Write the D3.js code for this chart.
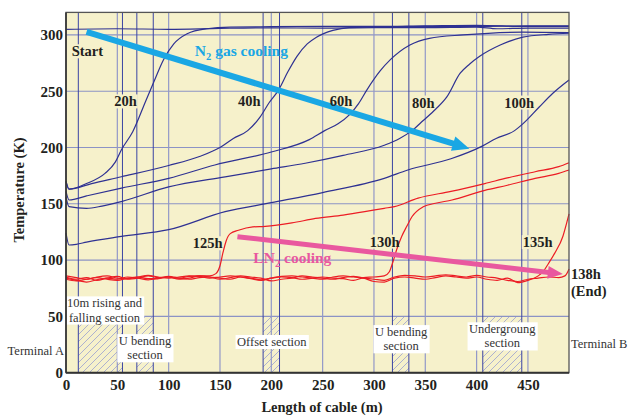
<!DOCTYPE html>
<html><head><meta charset="utf-8">
<script src="https://cdn.jsdelivr.net/npm/d3@7"></script>
<style>body{margin:0;background:#fff}svg{display:block}</style>
</head><body>
<svg id="c" width="631" height="420"></svg>
<script>
// ---------- data (length m, temperature K) ----------
const xTicks = [0,50,100,150,200,250,300,350,400,450];
const yTicks = [0,50,100,150,200,250,300];
const sectionLines = [12,55,69,85,192,208,318,334,406,444];
const sections = [[12,55],[69,85],[192,208],[318,334],[406,444]];

const startCurve = [[0,305],[50,305.5],[100,305],[150,305.8],[200,306.3],[250,306],[300,306.5],[350,306.5],[400,307],[420,305.5],[450,306],[490,306]];
const h20 = [[0,170],[3,163],[20,168],[38,177],[48,187],[54,198],[65,214],[78,242],[85,257],[95,278],[105,292],[118,301],[137,305.5],[160,307],[200,307.3],[250,307.5],[300,307.5],[350,308],[400,308.5],[450,307.5],[490,307.5]];
const h40 = [[0,170],[3,163],[25,168],[54,174],[100,184],[130,192],[150,200],[163,208],[177,215],[189,227],[198,240],[207,251],[216,267],[225,281],[235,292],[244,298],[260,304],[276,306.5],[300,307],[350,307.5],[400,307.5],[450,308],[490,308]];
const h60 = [[0,161],[3,153.4],[20,157],[54,164],[100,172.6],[145,184.5],[200,196],[237,207],[252,215],[265,221],[276,229],[285,239],[293,251],[306,268],[316,278],[335,291],[354,297],[387,300],[445,302.5],[490,302]];
const h80 = [[0,156],[3,147.5],[20,146],[35,148],[54,152],[100,165],[155,174],[200,181],[233,186],[270,193],[310,202],[325,208],[337,215],[348,224],[360,234],[371,245],[384,266],[393,274],[403,281],[423,291],[445,298],[470,300.5],[490,301.5]];
const h100 = [[0,124],[3,113.4],[10,114],[20,116],[54,121],[100,127],[155,143],[200,151],[250,160],[310,172.6],[333,180],[375,190],[405,201],[419,208],[437,215],[445,221],[461,236],[474,248],[490,260]];

const h125 = [[0,85],[10,83],[20,84.5],[30,82],[40,84],[50,85.5],[60,83],[70,84],[80,86],[90,84.5],[100,85],[110,84],[120,85.5],[130,86],[140,86],[146,88],[150,95],[153,107],[156,117],[160,123.5],[168,126.5],[182,129.5],[194,130],[220,133],[243,137],[270,140],[291,143],[310,146],[320,147.5],[343,155],[375,161],[408,168],[430,173],[457,178.5],[480,183],[490,186.5]];
const h130 = [[0,83],[10,81.5],[20,83],[30,84.5],[40,83],[50,82],[60,84],[70,85],[80,83.5],[90,84],[100,85.5],[110,84],[120,83],[130,84.5],[140,85],[150,84],[160,83],[170,85],[180,84],[190,82.5],[200,84],[210,85],[220,84.5],[230,83],[240,84],[250,85],[260,84],[270,83.5],[280,82],[290,84.5],[300,85],[310,86],[315,89.7],[318,97],[322,109],[327,121],[332,130],[337,138.5],[348,147.4],[360,150.5],[376,153.4],[408,162],[430,166.5],[457,172.6],[480,177],[490,180]];
const h135 = [[0,84],[10,82],[20,80.5],[30,82.5],[40,84],[50,83],[60,85],[70,84],[80,82.5],[90,83.5],[100,85],[110,83],[120,84],[130,86],[140,85],[150,83],[160,84.5],[170,86],[180,85],[190,84],[200,81.5],[210,83],[220,84],[230,86],[240,85],[250,84],[260,83],[270,84.5],[280,85.5],[290,84],[300,81],[310,80.5],[320,84],[330,85],[340,84],[350,83],[360,84.5],[370,86],[380,85],[390,84],[400,85],[410,83],[420,82],[430,84],[440,80],[450,82],[460,86],[465,90],[470,97],[476,106],[484,121],[488,134],[490,141]];
const h138 = [[0,86],[10,84.5],[20,83],[30,85],[40,86],[50,84],[60,83.5],[70,85],[80,86.5],[90,85],[100,84],[110,85],[120,86],[130,85.5],[140,84],[150,85],[160,86],[170,85],[180,83.5],[190,82],[200,84],[210,85.5],[220,86],[230,85],[240,84],[250,83],[260,85],[270,86],[280,85],[290,84],[300,83],[310,82],[320,85],[330,86.5],[340,86],[350,85],[360,86],[370,87],[380,86],[390,85],[400,86.5],[410,85],[420,84],[430,82],[440,81],[450,83],[460,84],[470,85],[480,84.5],[486,86],[490,92]];

const blueSeries = [startCurve,h20,h40,h60,h80,h100];
const redSeries = [h125,h130,h135,h138];

const gasArrow = [[20,302.8],[393,199]];
const lnArrow = [[167,120.8],[484,87.6]];

const curveLabels = [
  {t:"Start",x:5.5,y:281},{t:"20h",x:47,y:236.5},{t:"40h",x:167.5,y:236.5},
  {t:"60h",x:257,y:236.5},{t:"80h",x:337,y:235.5},{t:"100h",x:427,y:235.5},
  {t:"125h",x:123.5,y:110.5},{t:"130h",x:296,y:112},{t:"135h",x:445,y:111.5}
];
const sectionLabels = [
  {lines:["10m rising and","falling section"],x:37.5,y:58},
  {lines:["U bending","section"],x:77,y:24.5},
  {lines:["Offset section"],x:200.5,y:23.7},
  {lines:["U bending","section"],x:326.5,y:32.5},
  {lines:["Undergroung","section"],x:425,y:35}
];

// ---------- drawing ----------
const svg = d3.select("#c");
const x = d3.scaleLinear().domain([0,490]).range([66,569]);
const y = d3.scaleLinear().domain([0,320]).range([372.7,12.4]);
const SERIF = "'Liberation Serif','Times New Roman',serif";
const BG = "#f6f1cb", NAVY = "#2e3192", RED = "#ec1c24";

const defs = svg.append("defs");
const pat = defs.append("pattern").attr("id","hatch").attr("patternUnits","userSpaceOnUse")
  .attr("width",7).attr("height",7);
pat.append("rect").attr("width",7).attr("height",7).attr("fill",BG);
pat.append("path").attr("d","M-1,1 l2,-2 M0,7 l7,-7 M6,8 l2,-2")
  .attr("stroke","#7c86d2").attr("stroke-width",0.6);

svg.append("rect").attr("x",x(0)).attr("y",y(320)).attr("width",x(490)-x(0)).attr("height",y(0)-y(320)).attr("fill",BG);

svg.append("g").selectAll("rect").data(sections).join("rect")
  .attr("x",d=>x(d[0])).attr("y",y(50)).attr("width",d=>x(d[1])-x(d[0])).attr("height",y(0)-y(50))
  .attr("fill","url(#hatch)");

svg.append("g").selectAll("line").data(yTicks.filter(d=>d>0)).join("line")
  .attr("x1",x(0)).attr("x2",x(490)).attr("y1",d=>y(d)).attr("y2",d=>y(d))
  .attr("stroke","#8c93c5").attr("stroke-width",1.1);
svg.append("g").selectAll("line").data(xTicks.filter(d=>d>0)).join("line")
  .attr("x1",d=>x(d)).attr("x2",d=>x(d)).attr("y1",y(0)).attr("y2",y(320))
  .attr("stroke","#9298c8").attr("stroke-width",1.2);
svg.append("g").selectAll("line").data(sectionLines).join("line")
  .attr("x1",d=>x(d)).attr("x2",d=>x(d)).attr("y1",y(0)).attr("y2",y(320))
  .attr("stroke","#3a43a3").attr("stroke-width",1);

const lblG = svg.append("g");
const line = d3.line().x(d=>x(d[0])).y(d=>y(d[1])).curve(d3.curveMonotoneX);

const tmpT = svg.append("g").attr("font-family",SERIF).attr("font-weight","bold").attr("font-size",14.5);
curveLabels.forEach(d=>{
  const t = tmpT.append("text").attr("x",x(d.x)).attr("y",y(d.y)).text(d.t);
  const b = t.node().getBBox();
  lblG.append("rect").attr("x",b.x-1).attr("y",b.y+1).attr("width",b.width+2).attr("height",b.height-2).attr("fill",BG);
  t.remove();
});

svg.append("g").selectAll("path").data(blueSeries).join("path")
  .attr("d",line).attr("fill","none").attr("stroke",NAVY).attr("stroke-width",1.2);
svg.append("g").selectAll("path").data(redSeries).join("path")
  .attr("d",line).attr("fill","none").attr("stroke",RED).attr("stroke-width",1.2);

function arrow(pts,color,w,hl,hw){
  const p0=[x(pts[0][0]),y(pts[0][1])], p1=[x(pts[1][0]),y(pts[1][1])];
  const dx=p1[0]-p0[0], dy=p1[1]-p0[1], L=Math.hypot(dx,dy), ux=dx/L, uy=dy/L;
  const bx=p1[0]-ux*hl, by=p1[1]-uy*hl;
  svg.append("line").attr("x1",p0[0]).attr("y1",p0[1]).attr("x2",bx+ux*1).attr("y2",by+uy*1)
    .attr("stroke",color).attr("stroke-width",w);
  svg.append("polygon").attr("points",[[p1[0],p1[1]],[bx-uy*hw,by+ux*hw],[bx+uy*hw,by-ux*hw]].map(p=>p.join(",")).join(" "))
    .attr("fill",color);
}
arrow(gasArrow,"#1aa7e4",6,17,7.5);
arrow(lnArrow,"#e9589f",5,15,6.5);

const tg = svg.append("g").attr("font-family",SERIF).attr("font-weight","bold").attr("font-size",14.5).attr("fill","#231f20");
curveLabels.forEach(d=>tg.append("text").attr("x",x(d.x)).attr("y",y(d.y)).text(d.t));
tg.append("text").attr("x",x(490)+2).attr("y",y(83.5)).text("138h");
tg.append("text").attr("x",x(490)+2).attr("y",y(68.5)).text("(End)");

const n2 = svg.append("text").attr("x",x(125.5)).attr("y",y(281)).attr("font-family",SERIF).attr("font-weight","bold")
  .attr("font-size",15.5).attr("fill","#1aa7e4");
n2.append("tspan").text("N");
n2.append("tspan").attr("dy",4).attr("font-size",10.5).text("2");
n2.append("tspan").attr("dy",-4).text(" gas cooling");

const ln = svg.append("text").attr("x",x(182.5)).attr("y",y(97)).attr("font-family",SERIF).attr("font-weight","bold")
  .attr("font-size",15.5).attr("fill","#e9589f");
ln.append("tspan").text("LN");
ln.append("tspan").attr("dy",4).attr("font-size",10.5).text("2");
ln.append("tspan").attr("dy",-4).text(" cooling");

const sg = svg.append("g").attr("font-family",SERIF).attr("font-size",12.5).attr("fill","#333");
sectionLabels.forEach(d=>{
  const g = sg.append("g");
  const rect = g.append("rect").attr("fill","#fff");
  const boxes = d.lines.map((s,i)=>{
    const t = g.append("text").attr("text-anchor","middle").attr("x",x(d.x)).attr("y",y(d.y)+i*14.2).text(s);
    return t.node().getBBox();
  });
  const x0=d3.min(boxes,b=>b.x), x1=d3.max(boxes,b=>b.x+b.width), y0=d3.min(boxes,b=>b.y), y1=d3.max(boxes,b=>b.y+b.height);
  rect.attr("x",x0-1.5).attr("y",y0).attr("width",x1-x0+3).attr("height",y1-y0);
});
sg.append("text").attr("x",x(0)-2).attr("y",y(16)).attr("text-anchor","end").text("Terminal A");
sg.append("text").attr("x",x(490)+2).attr("y",y(21.5)).text("Terminal B");

svg.append("rect").attr("x",x(0)).attr("y",y(320)).attr("width",x(490)-x(0)).attr("height",y(0)-y(320))
  .attr("fill","none").attr("stroke","#555").attr("stroke-width",1.3);
svg.append("line").attr("x1",x(0)).attr("x2",x(490)).attr("y1",y(0)).attr("y2",y(0)).attr("stroke","#333").attr("stroke-width",2);
svg.append("line").attr("x1",x(0)).attr("x2",x(0)).attr("y1",y(0)).attr("y2",y(320)).attr("stroke","#333").attr("stroke-width",1.6);

const xa = svg.append("g").attr("transform",`translate(0,${y(0)})`).call(d3.axisBottom(x).tickValues(xTicks).tickSize(0).tickPadding(7));
const ya = svg.append("g").attr("transform",`translate(${x(0)},0)`).call(d3.axisLeft(y).tickValues(yTicks).tickSize(0).tickPadding(3));
[xa,ya].forEach(a=>{a.select(".domain").remove();
  a.selectAll("text").attr("font-family",SERIF).attr("font-weight","bold").attr("font-size",15).attr("fill","#231f20");});

svg.append("text").attr("x",322).attr("y",411.5).attr("text-anchor","middle").attr("font-family",SERIF)
  .attr("font-weight","bold").attr("font-size",14.5).attr("fill","#231f20").text("Length of cable (m)");
svg.append("text").attr("transform","translate(24,190) rotate(-90)").attr("text-anchor","middle").attr("font-family",SERIF)
  .attr("font-weight","bold").attr("font-size",14.5).attr("fill","#231f20").text("Temperature (K)");
</script>
</body></html>
